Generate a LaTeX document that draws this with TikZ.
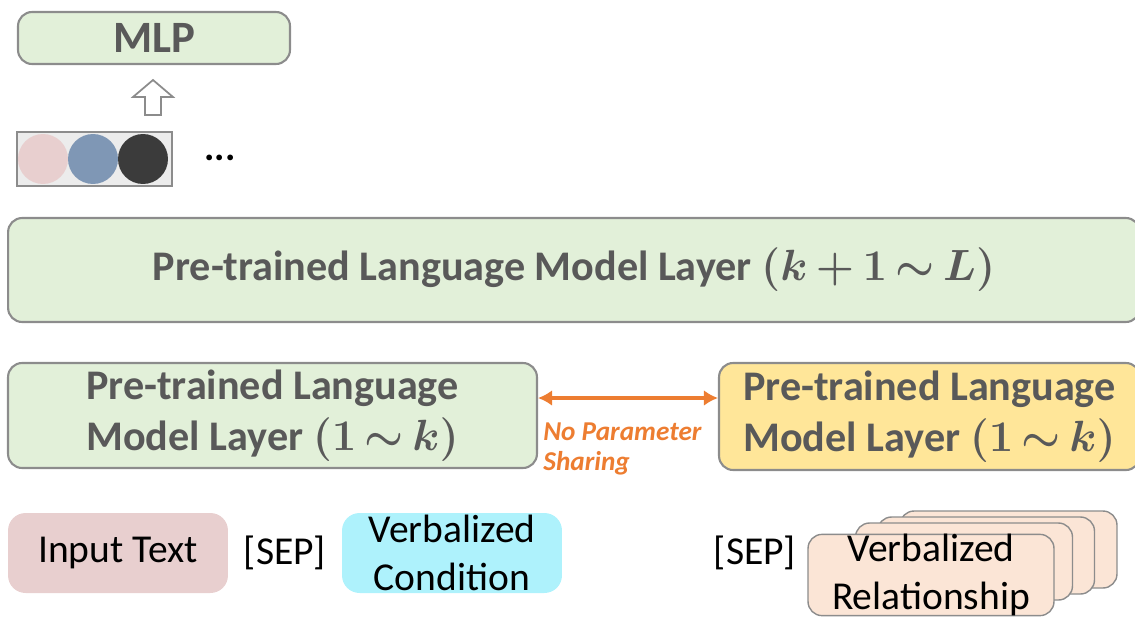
\documentclass[tikz,border=0pt]{standalone}
\usepackage{amsmath, amssymb}
\usepackage{fontspec}
\setmainfont{Carlito}
\usepackage{tikz}
\usetikzlibrary{arrows.meta,positioning,calc}
\usepackage{xcolor}
\definecolor{boxgreen}{HTML}{E2F0D9}
\definecolor{boxyellow}{HTML}{FFE699}
\definecolor{boxpink}{HTML}{E8CFCF}
\definecolor{boxcyan}{HTML}{AEF2FC}
\definecolor{boxpeach}{HTML}{FBE5D6}
\definecolor{txtgray}{HTML}{595959}
\definecolor{edgegray}{HTML}{8C8C8C}
\definecolor{arroworange}{HTML}{ED7D31}
\definecolor{dotblue}{HTML}{7F97B5}
\definecolor{dotdark}{HTML}{3B3B3B}
\begin{document}
\begin{tikzpicture}[x=0.02cm, y=-0.02cm,
					layer/.style={draw=edgegray, line width=1.2pt, rounded corners=8pt, text=txtgray,
						font=\fontsize{24}{29}\selectfont\bfseries, align=center},
					inbox/.style={rounded corners=10pt, minimum width=4.4cm, minimum height=1.6cm,
						font=\fontsize{22.5}{27}\selectfont, align=center, inner sep=0pt},
					relbox/.style={draw=edgegray, fill=boxpeach, line width=0.8pt, rounded corners=8pt,
						minimum width=4.34cm, minimum height=1.54cm},
					dot/.style={circle, minimum size=1cm, inner sep=0pt}]
				\useasboundingbox (0,0) rectangle (1135,619);
				\node[layer, fill=boxgreen, minimum width=5.44cm, minimum height=1.04cm,
					font=\fontsize{25.5}{30}\selectfont\bfseries] (mlp) at (154,38) {MLP};
				\node[draw=edgegray, fill=gray!15, line width=0.8pt, minimum width=3.1cm, minimum height=1.08cm,
					inner sep=0pt] (vec) at (94.5,159) {};
				\node[dot, fill=boxpink] (d1) at (43,159) {};
				\node[dot, fill=dotblue] (d2) at (93,159) {};
				\node[dot, fill=dotdark] (d3) at (143,159) {};
				\node[font=\fontsize{22}{26}\selectfont\bfseries] (more) at (220,158) {...};
				\coordinate (tip) at (153,80);
				\draw[edgegray, fill=white, line width=1pt, line join=miter]
					(tip) -- (173,97) -- (161,97) -- (161,115) -- (145,115) -- (145,97) -- (133,97) -- cycle;
				\node[layer, fill=boxgreen, minimum width=22.64cm, minimum height=2.08cm] (upper) at (574,270)
					{Pre-trained Language Model Layer $\medmuskip=3mu\thickmuskip=3mu\boldsymbol{(k+1\sim L)}$};
				\node[layer, fill=boxgreen, minimum width=10.58cm, minimum height=2.1cm] (lowleft) at (272.5,415.5)
					{Pre-trained Language\\Model Layer $\thickmuskip=3mu\boldsymbol{(1\sim k)}$};
				\node[layer, fill=boxyellow, minimum width=8.42cm, minimum height=2.14cm] (lowright) at (929.5,416.5)
					{Pre-trained Language\\Model Layer $\thickmuskip=3mu\boldsymbol{(1\sim k)}$};
				\coordinate (share) at (628,398);
				\draw[arroworange, line width=1.8pt, {Latex[length=8pt,width=9pt]}-{Latex[length=8pt,width=9pt]}]
					(lowleft.east |- share) -- (lowright.west |- share);
				\node[anchor=north west, text=arroworange, align=left, inner sep=0pt,
					font=\fontsize{15.5}{17.5}\selectfont\bfseries\itshape] (nps) at (543,422)
					{No Parameter\\Sharing};
				\node[inbox, fill=boxpink] (input) at (118,553) {Input Text};
				\node[font=\fontsize{22.5}{27}\selectfont] (sep1) at (285,553) {[SEP]};
				\node[inbox, fill=boxcyan] (cond) at (452,553) {Verbalized\\Condition};
				\node[font=\fontsize{22.5}{27}\selectfont] (sep2) at (755,553) {[SEP]};
				\node[relbox] (rel4) at (1008.5,549.5) {};
				\node[relbox] (rel3) at (986,555.5) {};
				\node[relbox] (rel2) at (964,561.5) {};
				\node[relbox, minimum width=4.92cm, minimum height=1.62cm, align=center,
					font=\fontsize{22.5}{27}\selectfont, inner sep=0pt] (rel1) at (931,575)
					{Verbalized\\Relationship};
			\end{tikzpicture}
\end{document}
